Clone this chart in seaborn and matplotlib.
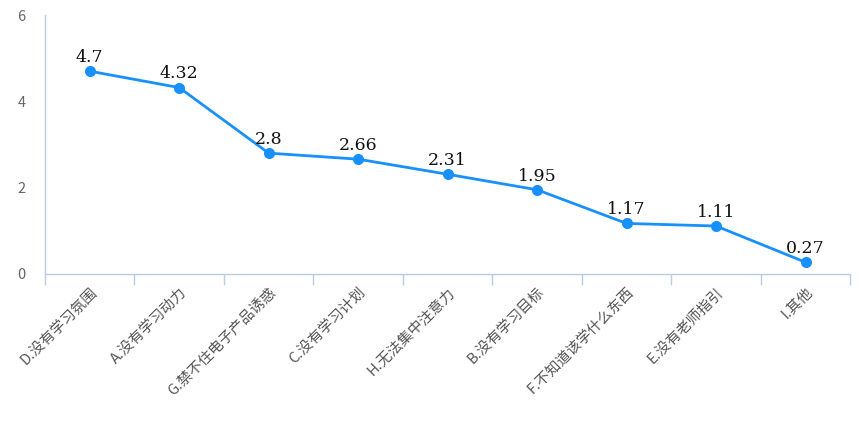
import numpy as np
import pandas as pd
import seaborn as sns
import matplotlib.pyplot as plt
from matplotlib.ticker import FixedLocator

categories = ['D.没有学习氛围', 'A.没有学习动力', 'G.禁不住电子产品诱惑', 'C.没有学习计划',
              'H.无法集中注意力', 'B.没有学习目标', 'F.不知道该学什么东西', 'E.没有老师指引', 'I.其他']
values = [4.7, 4.32, 2.8, 2.66, 2.31, 1.95, 1.17, 1.11, 0.27]
yticks = [0, 2, 4, 6]

sns.set_style('white')
plt.rcParams['font.family'] = ['Noto Sans CJK SC', 'DejaVu Sans']

df = pd.DataFrame({'cat': categories, 'val': values})

fig = plt.figure(figsize=(8.65, 4.32), dpi=100)
ax = fig.add_axes([0.052, 0.366, 0.931, 0.599])

line_color = '#1890ff'
sns.lineplot(data=df, x='cat', y='val', ax=ax, color=line_color, linewidth=2,
             marker='o', markersize=8, markeredgewidth=0, sort=False)

for i, v in enumerate(values):
    ax.text(i, v + 0.12, f'{v:g}', ha='center', va='bottom', fontsize=12.5,
            family='DejaVu Serif', color='#111111')

ax.set_xlim(-0.5, len(categories) - 0.5)
ax.set_ylim(0, 6)
ax.set_yticks(yticks)
ax.set_xlabel('')
ax.set_ylabel('')

ax.set_xticks(range(len(categories)))
ax.set_xticklabels(categories, rotation=45, ha='right', rotation_mode='anchor',
                   fontsize=10.5, color='#555555')
ax.xaxis.set_minor_locator(FixedLocator(np.arange(-0.5, len(categories), 1)))
ax.tick_params(axis='x', which='major', length=0, pad=8)
ax.tick_params(axis='x', which='minor', length=8, color='#b8cce4', width=1, bottom=True)
ax.tick_params(axis='y', length=0, labelsize=10.5, labelcolor='#666666', pad=14)

spine_color = '#b8cce4'
for s in ['top', 'right']:
    ax.spines[s].set_visible(False)
for s in ['left', 'bottom']:
    ax.spines[s].set_color(spine_color)
    ax.spines[s].set_linewidth(1)

fig.savefig('out.png', dpi=100)
